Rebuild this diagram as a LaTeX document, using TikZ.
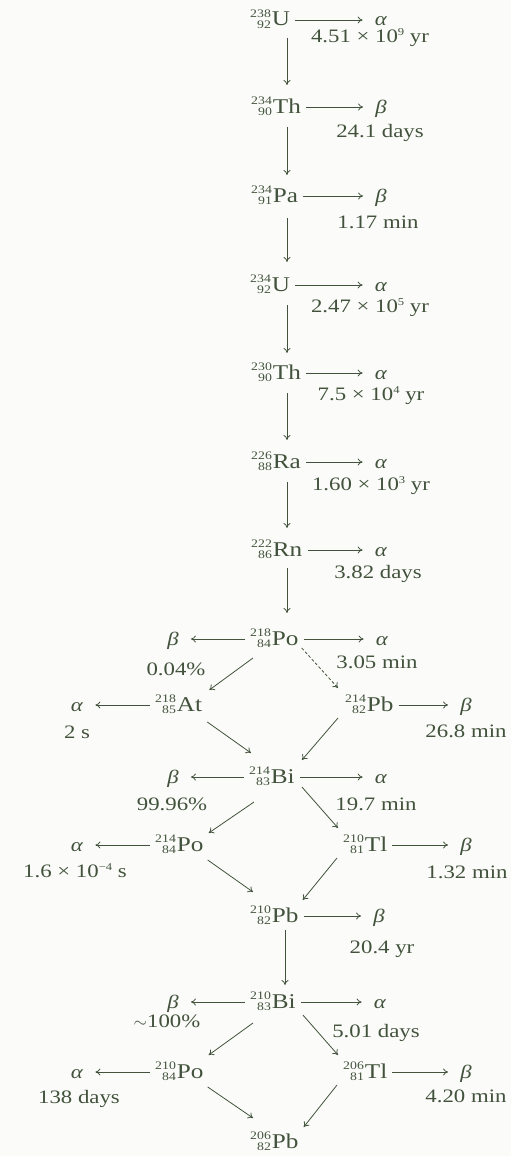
\documentclass[tikz,border=0pt]{standalone}
\usepackage{fontspec}
\setmainfont[FakeStretch=1.2]{Liberation Serif}
\usetikzlibrary{calc,arrows.meta}
\definecolor{ink}{RGB}{66,82,60}
\definecolor{paper}{RGB}{251,252,249}
\newcommand{\scrfont}{\fontsize{10.5}{10.5}\selectfont}
\newcommand{\nucfont}{\fontsize{11.5}{11.5}\selectfont}
\newcommand{\nucl}[3]{\begingroup\setbox0=\hbox{\nucfont #1}\setbox2=\hbox{\nucfont #2}%
\ifdim\wd0>\wd2 \dimen0=\wd0 \else \dimen0=\wd2 \fi
\hbox to \dimen0{\hss\raise8.5pt\box0}\kern-\dimen0\hbox to \dimen0{\hss\lower2.5pt\box2}\kern1pt{\fontsize{21}{21}\selectfont #3}\endgroup}
\newcommand{\myal}{\textit{α}}
\newcommand{\mybe}{\textit{β}}
\newcommand{\sps}[1]{\raise7pt\hbox{\scrfont #1}}
\begin{document}
\begin{tikzpicture}[x=1pt,y=-1pt,
  every node/.style={text=ink, font=\fontsize{19}{19}\selectfont},
  nuc/.style={inner xsep=5pt, inner ysep=2pt, anchor=base west},
  part/.style={inner xsep=12pt, inner ysep=2pt, anchor=base},
  lab/.style={inner sep=0pt, anchor=base},
  arr/.style={draw=ink, line width=0.8pt, -{To[length=5pt,width=7pt]}},
  dsh/.style={dash pattern=on 3pt off 2pt}
]
\fill[paper] (0,0) rectangle (511,1156);
\useasboundingbox (0,0) rectangle (511,1156);
\coordinate (ax) at (287,0);
\coordinate (bx) at (285,0);
% nuclides
\node[nuc] (u238) at (245,26) {\nucl{238}{92}{U}};
\node[nuc] (th234) at (246,113) {\nucl{234}{90}{Th}};
\node[nuc] (pa234) at (246,202) {\nucl{234}{91}{Pa}};
\node[nuc] (u234) at (245,291) {\nucl{234}{92}{U}};
\node[nuc] (th230) at (246,379) {\nucl{230}{90}{Th}};
\node[nuc] (ra226) at (246,468) {\nucl{226}{88}{Ra}};
\node[nuc] (rn222) at (246,556) {\nucl{222}{86}{Rn}};
\node[nuc] (po218) at (245,645) {\nucl{218}{84}{Po}};
\node[nuc] (at218) at (150,711) {\nucl{218}{85}{At}};
\node[nuc] (pb214) at (340,711) {\nucl{214}{82}{Pb}};
\node[nuc] (bi214) at (244,783) {\nucl{214}{83}{Bi}};
\node[nuc] (po214) at (150,851) {\nucl{214}{84}{Po}};
\node[nuc] (tl210) at (338,851) {\nucl{210}{81}{Tl}};
\node[nuc] (pb210) at (245,922) {\nucl{210}{82}{Pb}};
\node[nuc] (bi210) at (245,1008) {\nucl{210}{83}{Bi}};
\node[nuc] (po210) at (150,1078) {\nucl{210}{84}{Po}};
\node[nuc] (tl206) at (338,1078) {\nucl{206}{81}{Tl}};
\node[nuc] (pb206) at (245,1148) {\nucl{206}{82}{Pb}};
% particles
\node[part] (r1) at (381,26) {\myal};
\node[part] (r2) at (381,113) {\mybe};
\node[part] (r3) at (381,202) {\mybe};
\node[part] (r4) at (381,291) {\myal};
\node[part] (r5) at (381,379) {\myal};
\node[part] (r6) at (381,468) {\myal};
\node[part] (r7) at (381,556) {\myal};
\node[part] (r8) at (382,645) {\myal};
\node[part] (l8) at (173,645) {\mybe};
\node[part] (l9) at (77,711) {\myal};
\node[part] (r9) at (466,711) {\mybe};
\node[part] (l10) at (173,783) {\mybe};
\node[part] (r10) at (381,783) {\myal};
\node[part] (l11) at (77,851) {\myal};
\node[part] (r11) at (466,851) {\mybe};
\node[part] (r12) at (379,922) {\mybe};
\node[part] (l13) at (173,1008) {\mybe};
\node[part] (r13) at (380,1008) {\myal};
\node[part] (l14) at (77,1078) {\myal};
\node[part] (r14) at (466,1078) {\mybe};
% labels
\node[lab] (t1) at (370,43) {4.51 × 10\sps{9} yr};
\node[lab] (t2) at (380,137) {24.1 days};
\node[lab] (t3) at (378,228) {1.17 min};
\node[lab] (t4) at (370,312) {2.47 × 10\sps{5} yr};
\node[lab] (t5) at (371,400) {7.5 × 10\sps{4} yr};
\node[lab] (t6) at (371,490) {1.60 × 10\sps{3} yr};
\node[lab] (t7) at (378,578) {3.82 days};
\node[lab] (t8) at (377,668) {3.05 min};
\node[lab] (s8) at (176,675) {0.04\%};
\node[lab] (s9) at (77,738) {2 s};
\node[lab] (t9) at (466,737) {26.8 min};
\node[lab] (s10) at (172,810) {99.96\%};
\node[lab] (t10) at (376,810) {19.7 min};
\node[lab] (s11) at (75,877) {1.6 × 10\sps{−4} s};
\node[lab] (t11) at (467,878) {1.32 min};
\node[lab] (t12) at (382,953) {20.4 yr};
\node[lab] (s13) at (167,1027) {$\sim$100\%};
\node[lab] (t13) at (376,1037) {5.01 days};
\node[lab] (s14) at (79,1103) {138 days};
\node[lab] (t14) at (466,1102) {4.20 min};
% horizontal arrows right
\foreach \n/\p in {u238/r1,th234/r2,pa234/r3,u234/r4,th230/r5,ra226/r6,rn222/r7,po218/r8,pb214/r9,bi214/r10,tl210/r11,pb210/r12,bi210/r13,tl206/r14}
  \draw[arr] ([yshift=6pt]\n.base east) -- ([yshift=6pt]\p.base west);
% horizontal arrows left
\foreach \n/\p in {po218/l8,at218/l9,bi214/l10,po214/l11,bi210/l13,po210/l14}
  \draw[arr] ([yshift=6pt]\n.base west) -- ([yshift=6pt]\p.base east);
% vertical arrows
\draw[arr] ($(u238.base -| ax)+(0,12)$) -- ($(th234.base -| ax)+(0,-28)$);
\draw[arr] ($(th234.base -| ax)+(0,14)$) -- ($(pa234.base -| ax)+(0,-27)$);
\draw[arr] ($(pa234.base -| ax)+(0,16)$) -- ($(u234.base -| ax)+(0,-29)$);
\draw[arr] ($(u234.base -| ax)+(0,14)$) -- ($(th230.base -| ax)+(0,-26)$);
\draw[arr] ($(th230.base -| ax)+(0,14)$) -- ($(ra226.base -| ax)+(0,-28)$);
\draw[arr] ($(ra226.base -| ax)+(0,14)$) -- ($(rn222.base -| ax)+(0,-28)$);
\draw[arr] ($(rn222.base -| ax)+(0,12)$) -- ($(po218.base -| ax)+(0,-32)$);
\draw[arr] ($(pb210.base -| bx)+(0,8)$) -- ($(bi210.base -| bx)+(0,-23)$);
% diagonal arrows
\draw[arr] ($(po218.base west)+(8,13)$) -- ($(at218.base east)+(2,-21)$);
\draw[arr,dsh] ($(po218.base east)+(-2,3)$) -- ($(pb214.base west)+(-2,-23)$);
\draw[arr] ($(at218.base east)+(0,11)$) -- ($(bi214.base west)+(7,-30)$);
\draw[arr] ($(pb214.base west)+(-2,7)$) -- ($(bi214.base east)+(2,-23)$);
\draw[arr] ($(bi214.base west)+(10,19)$) -- ($(po214.base east)+(0,-18)$);
\draw[arr] ($(bi214.base east)+(2,4)$) -- ($(tl210.base west)+(0,-23)$);
\draw[arr] ($(po214.base east)+(-1,9)$) -- ($(pb210.base west)+(8,-30)$);
\draw[arr] ($(tl210.base west)+(-1,7)$) -- ($(pb210.base east)+(-1,-22)$);
\draw[arr] ($(bi210.base west)+(8,15)$) -- ($(po210.base east)+(0,-23)$);
\draw[arr] ($(bi210.base east)+(2,7)$) -- ($(tl206.base west)+(0,-23)$);
\draw[arr] ($(po210.base east)+(-1,9)$) -- ($(pb206.base west)+(8,-30)$);
\draw[arr] ($(tl206.base west)+(-1,7)$) -- ($(pb206.base east)+(0,-21)$);
\end{tikzpicture}
\end{document}
